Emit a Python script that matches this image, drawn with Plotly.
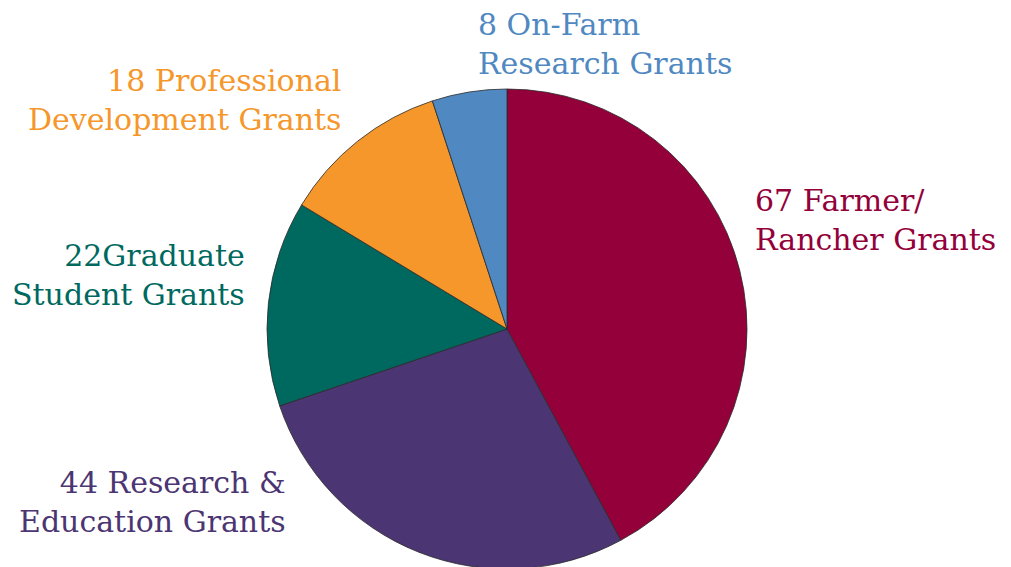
import plotly.graph_objects as go

labels = ["Farmer/Rancher Grants", "Research & Education Grants", "Graduate Student Grants",
          "Professional Development Grants", "On-Farm Research Grants"]
values = [67, 44, 22, 18, 8]
colors = ["#93003A", "#4B3572", "#00695F", "#F5972A", "#5088C1"]
label_texts = ["67 Farmer/<br>Rancher Grants", "44 Research &<br>Education Grants",
               "22Graduate<br>Student Grants", "18 Professional<br>Development Grants",
               "8 On-Farm<br>Research Grants"]

W, H = 1011, 567
OFF = 8  # page body margin
cx, cy, R = 507 - OFF, 329 - OFF, 240
fig = go.Figure(go.Pie(
    labels=labels, values=values, sort=False, direction="clockwise", rotation=0,
    marker=dict(colors=colors, line=dict(color="#2a2a2a", width=0.8)),
    textinfo="none", hoverinfo="label+value", showlegend=False,
    domain=dict(x=[(cx - R) / W, (cx + R) / W], y=[1 - (cy + R) / H, 1 - (cy - R) / H]),
))

# label positions (px): x, y_top, xanchor
pos = [(745, 173, "left"), (280, 455, "right"), (239, 228, "right"),
       (335, 53, "right"), (468, -3, "left")]
font_family = "Georgia, 'DejaVu Serif', serif"
for txt, c, (x, y, xa) in zip(label_texts, colors, pos):
    fig.add_annotation(
        x=x / W, y=1 - y / H, xref="paper", yref="paper", text=txt,
        showarrow=False, xanchor=xa, yanchor="top", align=xa,
        font=dict(family=font_family, size=30, color=c),
    )

fig.update_layout(
    width=W, height=H, margin=dict(l=0, r=0, t=0, b=0),
    paper_bgcolor="white", plot_bgcolor="white",
)
fig.write_html("out.html")
